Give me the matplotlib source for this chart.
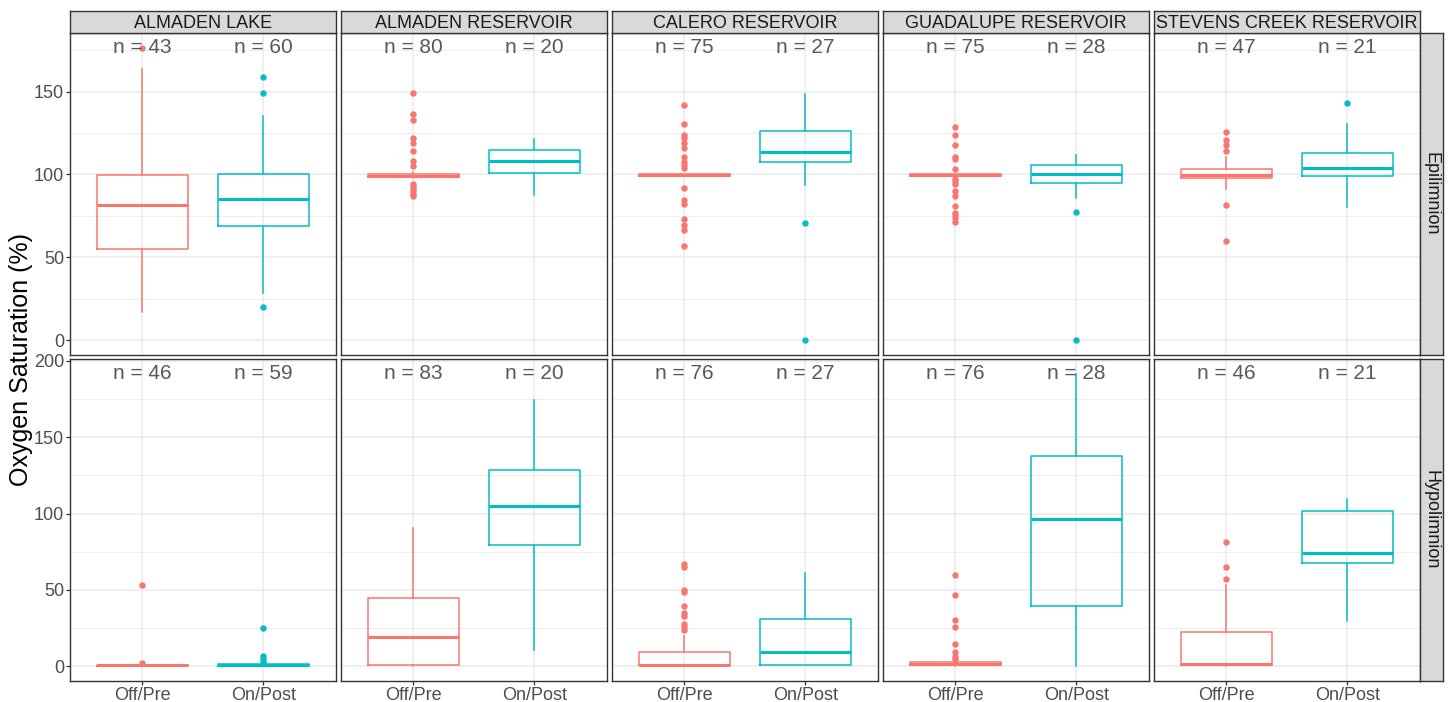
import numpy as np
import matplotlib
matplotlib.use("Agg")
import matplotlib.pyplot as plt
from matplotlib.ticker import MultipleLocator

plt.rcParams['font.family'] = ['Liberation Sans', 'DejaVu Sans']

# ---- data (box stats in % saturation) ----
sites = ['ALMADEN LAKE', 'ALMADEN RESERVOIR', 'CALERO RESERVOIR',
         'GUADALUPE RESERVOIR', 'STEVENS CREEK RESERVOIR']
layers = ['Epilimnion', 'Hypolimnion']
groups = ['Off/Pre', 'On/Post']
colors = ['#F8766D', '#00BFC4']

# Epilimnion, per site: [Off/Pre, On/Post]
epi_n = [[43, 60], [80, 20], [75, 27], [75, 28], [47, 21]]
epi_q1 = [[55.0, 68.9], [98.4, 100.8], [99.0, 107.4], [99.0, 94.6], [98.0, 99.0]]
epi_med = [[81.7, 85.0], [99.3, 107.8], [99.4, 113.3], [99.4, 100.4], [99.6, 103.8]]
epi_q3 = [[99.8, 100.0], [100.5, 115.0], [100.0, 126.1], [100.0, 105.6], [103.2, 112.8]]
epi_lo = [[17.0, 28.5], [97.6, 87.8], [98.8, 93.6], [98.8, 86.0], [91.4, 80.3]]
epi_hi = [[163.6, 135.0], [101.5, 121.5], [100.3, 148.6], [100.3, 112.0], [110.8, 130.5]]
epi_out = [
    [[176.3], [158.6, 149.2, 20.3]],
    [[149.2, 136.3, 132.7, 121.9, 118.7, 114.0, 107.8, 105.2,
      94.4, 92.8, 91.4, 90.0, 88.4, 86.7], []],
    [[142.0, 130.7, 123.5, 122.0, 119.0, 115.9, 110.8, 107.4, 105.8, 104.0,
      92.0, 84.3, 81.9, 72.9, 69.7, 66.3, 56.6], [70.7, 0.0]],
    [[128.5, 123.5, 117.7, 110.4, 109.4, 103.2, 97.4, 96.0, 94.4, 89.8,
      86.9, 80.9, 76.7, 75.3, 73.9, 71.5], [77.3, 0.0]],
    [[125.5, 120.9, 117.7, 114.0, 81.3, 60.0], [142.8]],
]

# Hypolimnion, per site: [Off/Pre, On/Post]
hyp_n = [[46, 59], [83, 20], [76, 27], [76, 28], [46, 21]]
hyp_q1 = [[0.2, 0.2], [0.7, 79.3], [0.6, 0.6], [0.8, 39.6], [0.6, 67.3]]
hyp_med = [[0.6, 0.7], [19.0, 104.8], [1.1, 9.2], [1.5, 96.3], [1.5, 74.3]]
hyp_q3 = [[1.0, 1.3], [44.7, 128.8], [9.4, 30.9], [2.5, 137.7], [22.4, 101.5]]
hyp_lo = [[0.0, 0.0], [0.3, 10.9], [0.0, 0.6], [0.0, 0.0], [0.3, 29.9]]
hyp_hi = [[1.5, 2.0], [90.6, 174.5], [19.6, 61.0], [3.5, 191.5], [53.4, 109.8]]
hyp_out = [
    [[53.0, 2.0], [24.8, 6.5, 5.0, 2.8]],
    [[], []],
    [[67.0, 65.0, 50.0, 48.4, 39.4, 34.9, 32.9, 27.9, 25.7, 24.0], []],
    [[60.0, 46.4, 30.0, 26.0, 14.6, 9.4, 6.1, 4.6], []],
    [[81.3, 65.1, 56.9], []],
]

rows = [
    (epi_n, epi_q1, epi_med, epi_q3, epi_lo, epi_hi, epi_out),
    (hyp_n, hyp_q1, hyp_med, hyp_q3, hyp_lo, hyp_hi, hyp_out),
]

# ---- layout in pixels ----
W, H = 1448, 702
fig = plt.figure(figsize=(W / 100, H / 100), dpi=100)

left0, pw, gapx = 70, 265.7, 5.3
row_top = [33.3, 359.3]
ph = 321.5
strip_h = 22.6
rstrip_w = 23.5
border = '#333333'


def px_rect(x, y, w, h):
    return [x / W, 1 - (y + h) / H, w / W, h / H]


for r, (ns, q1s, meds, q3s, los, his, outs) in enumerate(rows):
    # label height = top of the row's data, scale expanded 5% like ggplot
    ymax = max(max(max(h) for h in his),
               max((max(v) for o in outs for v in o if v), default=0))
    ymin = 0.0
    span = ymax - ymin
    for c, site in enumerate(sites):
        x0 = left0 + c * (pw + gapx)
        ax = fig.add_axes(px_rect(x0, row_top[r], pw, ph))
        ax.set_facecolor('white')
        for g in range(2):
            st = dict(med=meds[c][g], q1=q1s[c][g], q3=q3s[c][g],
                      whislo=los[c][g], whishi=his[c][g],
                      fliers=outs[c][g], label=groups[g])
            col = colors[g]
            ax.bxp([st], positions=[g + 1], widths=0.75, showcaps=False,
                   boxprops=dict(color=col, lw=1.1),
                   whiskerprops=dict(color=col, lw=1.1),
                   medianprops=dict(color=col, lw=2.2),
                   flierprops=dict(marker='o', markersize=3.6,
                                   markerfacecolor=col, markeredgecolor=col,
                                   linestyle='none'),
                   zorder=3)
            ax.text(g + 1, ymax, 'n = %d' % ns[c][g], ha='center',
                    va='center', fontsize=15, color='#595959', zorder=4)
        ax.set_xlim(0.4, 2.6)
        ax.set_ylim(ymin - 0.05 * span, ymax + 0.05 * span)
        ax.yaxis.set_major_locator(MultipleLocator(50))
        ax.yaxis.set_minor_locator(MultipleLocator(25))
        ax.set_xticks([1, 2])
        ax.set_xticklabels(groups)
        ax.grid(True, which='major', color='#EBEBEB', lw=1.1, zorder=0)
        ax.grid(True, which='minor', axis='y', color='#EBEBEB', lw=0.6, zorder=0)
        ax.set_axisbelow(True)
        for s in ax.spines.values():
            s.set_color(border)
            s.set_linewidth(1.0)
        ax.tick_params(axis='both', which='major', length=2.75, width=0.9,
                       color=border, labelcolor='#4D4D4D', labelsize=13, pad=1.5)
        ax.tick_params(axis='y', which='minor', length=0)
        if c > 0:
            ax.tick_params(axis='y', which='major', labelleft=False, length=0)
        if r == 0:
            ax.tick_params(axis='x', labelbottom=False, length=0)

        # top strips
        if r == 0:
            sax = fig.add_axes(px_rect(x0, row_top[0] - strip_h, pw, strip_h))
            sax.set_facecolor('#D9D9D9')
            sax.set_xticks([])
            sax.set_yticks([])
            for s in sax.spines.values():
                s.set_color(border)
                s.set_linewidth(1.0)
            sax.text(0.5, 0.45, site, ha='center', va='center', fontsize=13,
                     color='#1A1A1A', transform=sax.transAxes, clip_on=False)

    # right strips
    xr = left0 + 5 * pw + 4 * gapx
    rax = fig.add_axes(px_rect(xr, row_top[r], rstrip_w, ph))
    rax.set_facecolor('#D9D9D9')
    rax.set_xticks([])
    rax.set_yticks([])
    for s in rax.spines.values():
        s.set_color(border)
        s.set_linewidth(1.0)
    rax.text(0.5, 0.5, layers[r], ha='center', va='center', fontsize=13,
             rotation=-90, color='#1A1A1A', transform=rax.transAxes)

fig.text(21 / W, 1 - 360 / H, 'Oxygen Saturation (%)', rotation=90,
         ha='center', va='center', fontsize=18, color='black')

fig.savefig('out.png', dpi=100)
